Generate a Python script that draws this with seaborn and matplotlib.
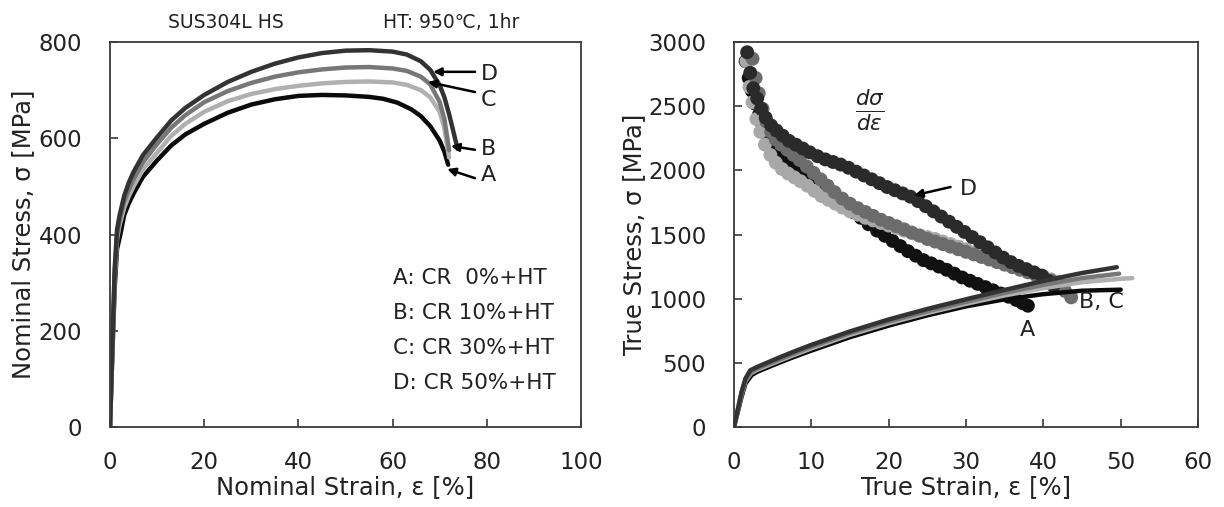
import numpy as np
import pandas as pd
import matplotlib
matplotlib.use("Agg")
import matplotlib.pyplot as plt
import seaborn as sns

# ---------------- data ----------------
# Nominal stress-strain curves (left)
A_eps_n = [0, 0.5, 1.0, 1.5, 2.2, 3, 4, 5, 7, 10, 13, 16, 20, 25, 30, 35, 40, 45, 50, 55, 58, 61, 64, 66, 68, 70, 71, 71.8]
A_sig_n = [0, 150, 290, 370, 400, 440, 465, 485, 520, 554, 585, 608, 630, 653, 670, 681, 688, 690, 689, 686, 682, 674, 660, 646, 625, 595, 572, 545]
B_eps_n = [0, 0.5, 1.0, 1.5, 2.0, 3, 4, 5, 7, 10, 13, 16, 20, 25, 30, 35, 40, 45, 50, 55, 60, 63, 66, 68, 70, 71, 72]
B_sig_n = [0, 160, 310, 390, 418, 455, 480, 500, 535, 570, 605, 630, 655, 677, 692, 702, 709, 714, 717, 718, 716, 711, 700, 685, 655, 620, 560]
C_eps_n = [0, 0.5, 1.0, 1.5, 2.0, 3, 4, 5, 7, 10, 13, 16, 20, 25, 30, 35, 40, 45, 50, 55, 60, 63, 66, 68, 70, 71, 72]
C_sig_n = [0, 165, 320, 400, 428, 468, 493, 515, 550, 588, 622, 648, 675, 698, 715, 728, 737, 743, 747, 748, 745, 740, 728, 712, 675, 640, 575]
D_eps_n = [0, 0.5, 1.0, 1.5, 2.0, 3, 4, 5, 7, 10, 13, 16, 20, 25, 30, 35, 40, 45, 50, 55, 60, 63, 66, 68, 70, 71, 72, 73, 73.8]
D_sig_n = [0, 170, 330, 410, 438, 480, 508, 530, 565, 602, 637, 663, 690, 717, 738, 755, 768, 777, 782, 783, 780, 774, 760, 742, 710, 685, 650, 610, 578]

# True stress-strain curves (right)
A_eps_t = [0, 0.5, 1, 1.5, 2.3, 3, 5, 7.5, 10, 15, 20, 25, 30, 35, 40, 45, 50]
A_sig_t = [0, 120, 240, 340, 405, 430, 480, 540, 595, 700, 790, 870, 940, 995, 1035, 1062, 1070]
B_eps_t = [0, 0.5, 1, 1.5, 2.2, 3, 5, 7.5, 10, 15, 20, 25, 30, 35, 40, 45, 50, 51.5]
B_sig_t = [0, 130, 260, 360, 420, 445, 495, 555, 612, 718, 808, 888, 960, 1025, 1082, 1128, 1155, 1160]
C_eps_t = [0, 0.5, 1, 1.5, 2.2, 3, 5, 7.5, 10, 15, 20, 25, 30, 35, 40, 45, 49.8]
C_sig_t = [0, 135, 270, 370, 430, 455, 505, 567, 625, 732, 822, 902, 975, 1045, 1108, 1160, 1195]
D_eps_t = [0, 0.5, 1, 1.5, 2.1, 3, 5, 7.5, 10, 15, 20, 25, 30, 35, 40, 45, 49.5]
D_sig_t = [0, 140, 280, 380, 442, 468, 520, 582, 640, 745, 838, 920, 995, 1068, 1138, 1200, 1245]

# Work hardening rate d(sigma)/d(epsilon) (right, dots)
A_eps_h = [1.5, 1.9, 2.3, 2.7, 3.2, 3.7, 4.3, 5, 5.8, 6.6, 7.5, 8.4, 9.4, 10.4, 11.4, 12.4, 13.4, 14.4, 15.4, 16.4, 17.4, 18.5,
           19.5, 20.5, 21.5, 22.5, 23.5, 24.5, 25.5, 26.5, 27.5, 28.5, 29.5, 30.5, 31.5, 32.5, 33.5, 34.5, 35.5, 36.5, 37.3, 38.0]
A_sig_h = [2850, 2720, 2620, 2520, 2430, 2350, 2280, 2220, 2160, 2110, 2060, 2010, 1955, 1905, 1860, 1810, 1765, 1720, 1675, 1630, 1580, 1530,
           1490, 1450, 1410, 1370, 1335, 1300, 1275, 1250, 1225, 1195, 1165, 1140, 1115, 1090, 1065, 1040, 1015, 990, 965, 945]
B_eps_h = [1.6, 2.0, 2.4, 2.9, 3.4, 4.0, 4.7, 5.4, 6.2, 7.0, 7.8, 8.6, 9.5, 10.4, 11.3, 12.2, 13.1, 14.0, 15.0, 16.0, 17.0, 18.0,
           19.0, 20.0, 21.0, 22.0, 23.0, 24.0, 25.0, 26.0, 27.0, 28.0, 29.0, 30.0, 31.0, 32.0, 33.0, 34.0, 35.0, 36.0, 37.0, 38.0,
           39.0, 40.0, 41.0, 42.0]
B_sig_h = [2850, 2650, 2530, 2400, 2300, 2200, 2120, 2060, 2010, 1975, 1945, 1915, 1880, 1840, 1800, 1770, 1740, 1710, 1680, 1655, 1630, 1610,
           1590, 1570, 1550, 1530, 1510, 1495, 1480, 1465, 1445, 1425, 1405, 1385, 1360, 1335, 1315, 1295, 1275, 1255, 1235, 1215,
           1195, 1175, 1150, 1130]
C_eps_h = [2.4, 2.8, 3.2, 3.7, 4.2, 4.8, 5.4, 6.1, 6.9, 7.7, 8.5, 9.4, 10.3, 11.2, 12.1, 13.0, 14.0, 15.0, 16.0, 17.0, 18.0, 19.0,
           20.0, 21.0, 22.0, 23.0, 24.0, 25.0, 26.0, 27.0, 28.0, 29.0, 30.0, 31.0, 32.0, 33.0, 34.0, 35.0, 36.0, 37.0, 38.0, 39.0,
           40.0, 41.0, 42.0, 42.8, 43.6]
C_sig_h = [2870, 2720, 2600, 2480, 2380, 2300, 2240, 2200, 2160, 2120, 2080, 2030, 1980, 1930, 1880, 1830, 1780, 1740, 1705, 1675, 1645, 1615,
           1590, 1565, 1540, 1515, 1490, 1465, 1445, 1425, 1405, 1385, 1365, 1345, 1325, 1305, 1285, 1265, 1245, 1225, 1205, 1185,
           1165, 1140, 1105, 1060, 1010]
D_eps_h = [1.7, 2.1, 2.5, 3.0, 3.5, 4.1, 4.8, 5.5, 6.3, 7.1, 8.0, 8.9, 9.8, 10.8, 11.8, 12.8, 13.8, 14.8, 15.8, 16.8, 17.8, 18.8,
           19.8, 20.8, 21.8, 22.8, 23.8, 24.8, 25.8, 26.8, 27.8, 28.8, 29.8, 30.8, 31.8, 32.8, 33.8, 34.8, 35.8, 36.8, 37.8, 38.8,
           39.8, 40.6, 41.3]
D_sig_h = [2920, 2760, 2640, 2560, 2480, 2410, 2350, 2310, 2270, 2230, 2200, 2170, 2140, 2110, 2085, 2065, 2045, 2020, 1990, 1960, 1930, 1900,
           1870, 1845, 1820, 1795, 1760, 1720, 1680, 1640, 1600, 1560, 1520, 1480, 1440, 1400, 1360, 1320, 1285, 1255, 1230, 1205,
           1180, 1140, 1100]

nominal_ticks_x = [0, 20, 40, 60, 80, 100]
nominal_ticks_y = [0, 200, 400, 600, 800]
true_ticks_x = [0, 10, 20, 30, 40, 50, 60]
true_ticks_y = [0, 500, 1000, 1500, 2000, 2500, 3000]

legend_lines = ["A: CR  0%+HT", "B: CR 10%+HT", "C: CR 30%+HT", "D: CR 50%+HT"]

# ---------------- style ----------------
sns.set_theme(style="white")
plt.rcParams['font.family'] = ['DejaVu Sans']
plt.rcParams['mathtext.fontset'] = 'dejavusans'

colors = {"A": "#0a0a0a", "B": "#b0b0b0", "C": "#777777", "D": "#333333"}
dot_colors = {"A": "#111111", "B": "#a8a8a8", "C": "#6c6c6c", "D": "#2a2a2a"}
TXT = "#222222"

def frame(eps, sig, lab):
    return pd.DataFrame({"strain": eps, "stress": sig, "sample": lab})

nom = pd.concat([frame(A_eps_n, A_sig_n, "A"), frame(B_eps_n, B_sig_n, "B"),
                 frame(C_eps_n, C_sig_n, "C"), frame(D_eps_n, D_sig_n, "D")], ignore_index=True)
tru = pd.concat([frame(A_eps_t, A_sig_t, "A"), frame(B_eps_t, B_sig_t, "B"),
                 frame(C_eps_t, C_sig_t, "C"), frame(D_eps_t, D_sig_t, "D")], ignore_index=True)
hard = pd.concat([frame(A_eps_h, A_sig_h, "A"), frame(B_eps_h, B_sig_h, "B"),
                  frame(C_eps_h, C_sig_h, "C"), frame(D_eps_h, D_sig_h, "D")], ignore_index=True)

W, H = 1224, 507
fig = plt.figure(figsize=(W / 100, H / 100), dpi=100)
ax1 = fig.add_axes([110 / W, (H - 427) / H, 471 / W, 385 / H])
ax2 = fig.add_axes([734 / W, (H - 427) / H, 464 / W, 385 / H])

TICK_FS = 16.5
LAB_FS = 17.5
LBL_FS = 16

# ---- left: nominal ----
sns.lineplot(data=nom, x="strain", y="stress", hue="sample", palette=colors,
             hue_order=["A", "B", "C", "D"], sort=False, estimator=None,
             linewidth=3.2, legend=False, ax=ax1)
ax1.set_xlim(0, 100)
ax1.set_ylim(0, 800)
ax1.set_xticks(nominal_ticks_x)
ax1.set_yticks(nominal_ticks_y)
ax1.set_xlabel("Nominal Strain, ε [%]", fontsize=LAB_FS, color=TXT)
ax1.set_ylabel("Nominal Stress, σ [MPa]", fontsize=LAB_FS, color=TXT)
ax1.xaxis.set_label_coords(0.5, -0.125)
ax1.yaxis.set_label_coords(-0.16, 0.5)

ann_kw = dict(arrowprops=dict(arrowstyle="-|>", color="black", lw=1.8, mutation_scale=12,
                              shrinkA=0, shrinkB=0))
ax1.annotate("", xy=(68.6, 738), xytext=(77.5, 738), **ann_kw)
ax1.annotate("", xy=(67.5, 717), xytext=(77.5, 696), **ann_kw)
ax1.annotate("", xy=(72.4, 584), xytext=(77.5, 576), **ann_kw)
ax1.annotate("", xy=(71.6, 536), xytext=(77.5, 517), **ann_kw)
for lbl, yy in zip(["D", "C", "B", "A"], [733, 680, 578, 524]):
    ax1.text(78.8, yy, lbl, fontsize=LBL_FS, va="center", ha="left", color=TXT)

for i, t in enumerate(legend_lines):
    ax1.text(60.0, 310 - i * 73, t, fontsize=15.5, va="center", ha="left", color=TXT)

fig.text(226 / W, 1 - 23 / H, "SUS304L HS", fontsize=13.5, ha="center", va="center", color=TXT)
fig.text(451 / W, 1 - 23 / H, "HT: 950℃, 1hr", fontsize=13.5, ha="center", va="center", color=TXT)

# ---- right: true stress & hardening ----
for lab in ["A", "B", "C", "D"]:
    sns.scatterplot(data=hard[hard["sample"] == lab], x="strain", y="stress",
                    color=dot_colors[lab], s=100, edgecolor="none", legend=False, ax=ax2, zorder=2)
sns.lineplot(data=tru, x="strain", y="stress", hue="sample", palette=colors,
             hue_order=["A", "B", "C", "D"], sort=False, estimator=None,
             linewidth=3.2, legend=False, ax=ax2, zorder=3)
ax2.set_xlim(0, 60)
ax2.set_ylim(0, 3000)
ax2.set_xticks(true_ticks_x)
ax2.set_yticks(true_ticks_y)
ax2.set_xlabel("True Strain, ε [%]", fontsize=LAB_FS, color=TXT)
ax2.set_ylabel("True Stress, σ [MPa]", fontsize=LAB_FS, color=TXT)
ax2.xaxis.set_label_coords(0.5, -0.125)
ax2.yaxis.set_label_coords(-0.19, 0.5)

ax2.text(17.5, 2470, r"$\frac{d\sigma}{d\varepsilon}$", fontsize=22, ha="center", va="center", color=TXT)
ax2.annotate("", xy=(23.3, 1805), xytext=(28.0, 1870), **ann_kw)
ax2.text(29.2, 1857, "D", fontsize=LBL_FS, va="center", ha="left", color=TXT)
ax2.text(44.6, 974, "B, C", fontsize=LBL_FS, va="center", ha="left", color=TXT)
ax2.text(38.0, 753, "A", fontsize=LBL_FS, va="center", ha="center", color=TXT)

for ax in (ax1, ax2):
    for side in ["top", "right", "left", "bottom"]:
        ax.spines[side].set_visible(True)
        ax.spines[side].set_color("#3a3a3a")
        ax.spines[side].set_linewidth(1.3)
    ax.tick_params(axis="both", direction="in", length=6, width=1.2, color="#3a3a3a",
                   labelsize=TICK_FS, labelcolor=TXT, top=False, right=False,
                   bottom=True, left=True)
    ax.tick_params(axis="x", pad=17)
    ax.tick_params(axis="y", pad=20)

fig.savefig("out.png", dpi=100)
